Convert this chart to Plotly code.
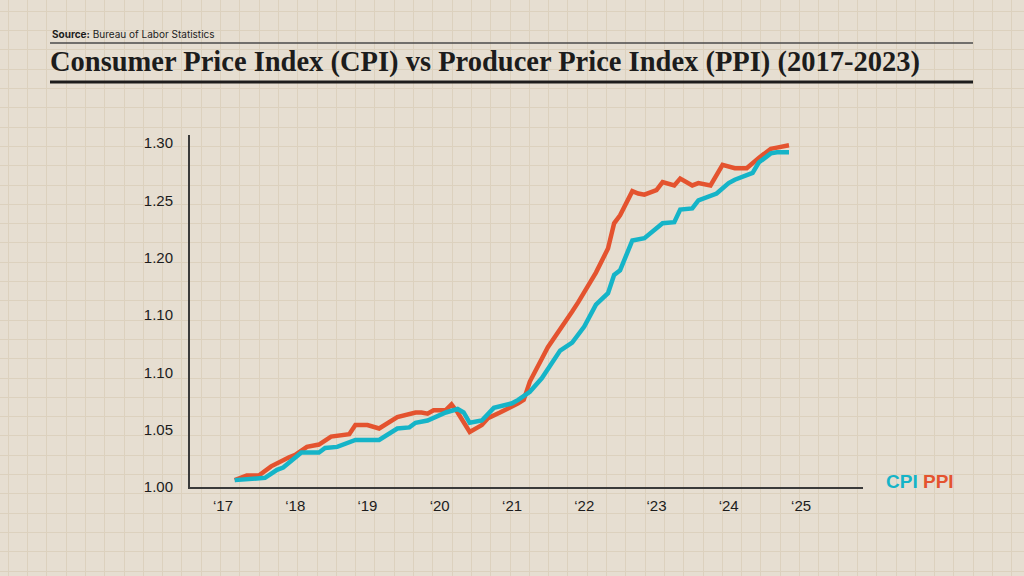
import plotly.graph_objects as go

# ---------------- data ----------------
cpi_dates = ["2017-03", "2017-08", "2017-10", "2017-11", "2018-02", "2018-05", "2018-06",
             "2018-08", "2018-11", "2019-03", "2019-06", "2019-08", "2019-09", "2019-11",
             "2020-02", "2020-04", "2020-05", "2020-06", "2020-08", "2020-10", "2021-01",
             "2021-02", "2021-04", "2021-06", "2021-09", "2021-11", "2022-01", "2022-03",
             "2022-05", "2022-06", "2022-07", "2022-09", "2022-11", "2023-02", "2023-04",
             "2023-05", "2023-07", "2023-08", "2023-11", "2024-01", "2024-02", "2024-05",
             "2024-06", "2024-08", "2024-09", "2024-11"]
cpi_values = [1.006, 1.008, 1.015, 1.017, 1.030, 1.030, 1.034,
              1.035, 1.041, 1.041, 1.051, 1.052, 1.056, 1.058,
              1.065, 1.068, 1.065, 1.056, 1.058, 1.069, 1.073,
              1.076, 1.083, 1.095, 1.119, 1.126, 1.140, 1.159,
              1.169, 1.185, 1.189, 1.215, 1.217, 1.230, 1.231,
              1.242, 1.243, 1.250, 1.256, 1.265, 1.268, 1.274,
              1.283, 1.291, 1.292, 1.292]

ppi_dates = ["2017-03", "2017-05", "2017-07", "2017-09", "2017-12", "2018-01", "2018-03",
             "2018-05", "2018-07", "2018-10", "2018-11", "2019-01", "2019-03", "2019-04",
             "2019-06", "2019-09", "2019-10", "2019-11", "2019-12", "2020-02", "2020-03",
             "2020-04", "2020-06", "2020-08", "2020-09", "2020-11", "2021-01", "2021-02",
             "2021-03", "2021-04", "2021-07", "2021-09", "2021-11", "2021-12", "2022-02",
             "2022-03", "2022-05", "2022-06", "2022-07", "2022-09", "2022-10", "2022-11",
             "2023-01", "2023-02", "2023-04", "2023-05", "2023-07", "2023-08", "2023-10",
             "2023-12", "2024-02", "2024-04", "2024-06", "2024-08", "2024-09", "2024-11"]
ppi_values = [1.006, 1.010, 1.010, 1.018, 1.026, 1.028, 1.035,
              1.037, 1.044, 1.046, 1.054, 1.054, 1.051, 1.054,
              1.061, 1.065, 1.065, 1.064, 1.067, 1.067, 1.072,
              1.065, 1.048, 1.054, 1.060, 1.065, 1.070, 1.073,
              1.076, 1.092, 1.122, 1.137, 1.153, 1.161, 1.178,
              1.187, 1.208, 1.230, 1.237, 1.258, 1.256, 1.255,
              1.259, 1.266, 1.263, 1.269, 1.263, 1.265, 1.263,
              1.281, 1.278, 1.278, 1.287, 1.295, 1.296, 1.298]

x_tick_vals = ["2017-01-01", "2018-01-01", "2019-01-01", "2020-01-01", "2021-01-01",
               "2022-01-01", "2023-01-01", "2024-01-01", "2025-01-01"]
x_tick_text = ["\u201817", "\u201818", "\u201819", "\u201820", "\u201821",
               "\u201822", "\u201823", "\u201824", "\u201825"]
y_tick_vals = [1.00, 1.05, 1.10, 1.15, 1.20, 1.25, 1.30]
y_tick_text = ["1.00", "1.05", "1.10", "1.10", "1.20", "1.25", "1.30"]

title_text = "Consumer Price Index (CPI) vs Producer Price Index (PPI) (2017-2023)"
source_text = "<b>Source:</b> Bureau of Labor Statistics"

# ---------------- style ----------------
W, H = 1024, 576
PAPER = "#e6ded1"
GRID = "#dcd1be"
INK = "#1c1c1c"
AXIS = "#3a3a3a"
CPI_C = "#15b4c8"
PPI_C = "#e4532f"

fig = go.Figure()

# empty trace to hold the full-page "graph paper" subplot
fig.add_trace(go.Scatter(x=[], y=[], xaxis="x", yaxis="y", showlegend=False,
                         hoverinfo="skip"))

fig.add_trace(go.Scatter(x=ppi_dates, y=ppi_values, name="PPI", mode="lines",
                         line=dict(color=PPI_C, width=4.5), xaxis="x2", yaxis="y2",
                         showlegend=False))
fig.add_trace(go.Scatter(x=cpi_dates, y=cpi_values, name="CPI", mode="lines",
                         line=dict(color=CPI_C, width=4.5), xaxis="x2", yaxis="y2",
                         showlegend=False))

x0, x1 = 190 / W, 863 / W
y0, y1 = 1 - 487 / H, 1 - 135 / H

fig.update_layout(
    width=W, height=H,
    margin=dict(l=0, r=0, t=0, b=0, pad=0),
    paper_bgcolor=PAPER, plot_bgcolor="rgba(0,0,0,0)",
    showlegend=False,
    xaxis=dict(domain=[0, 1], range=[0, W], showgrid=True, gridcolor=GRID, gridwidth=1,
               dtick=19.3, tick0=8.2, showticklabels=False, zeroline=False,
               showline=False, ticks="", fixedrange=True, automargin=False),
    yaxis=dict(domain=[0, 1], range=[0, H], showgrid=True, gridcolor=GRID, gridwidth=1,
               dtick=19.3, tick0=5, showticklabels=False, zeroline=False,
               showline=False, ticks="", fixedrange=True, automargin=False),
    xaxis2=dict(domain=[x0, x1], anchor="y2", type="date",
                range=["2016-07-18", "2025-11-10"],
                tickvals=x_tick_vals, ticktext=x_tick_text,
                showgrid=False, zeroline=False, showline=True, linecolor=AXIS, linewidth=2,
                ticks="", ticklabelstandoff=4, automargin=False,
                tickfont=dict(family="Liberation Sans", size=15, color=INK)),
    yaxis2=dict(domain=[y0, y1], anchor="x2", range=[1.0, 1.307],
                tickvals=y_tick_vals, ticktext=y_tick_text,
                showgrid=False, zeroline=False, showline=True, linecolor=AXIS, linewidth=2,
                ticks="", ticklabelstandoff=12, automargin=False,
                tickfont=dict(family="Liberation Sans", size=15, color=INK)),
)

# header rules
fig.add_shape(type="line", xref="paper", yref="paper", x0=50 / W, x1=973 / W,
              y0=1 - 43 / H, y1=1 - 43 / H, line=dict(color="#4a4a4a", width=1.5))
fig.add_shape(type="line", xref="paper", yref="paper", x0=50 / W, x1=973 / W,
              y0=1 - 82 / H, y1=1 - 82 / H, line=dict(color="#1c1c1c", width=3))

fig.add_annotation(text=source_text, xref="paper", yref="paper", x=50 / W, y=1 - 34 / H,
                   xanchor="left", yanchor="middle", showarrow=False,
                   font=dict(family="Inter", size=10, color=INK))
fig.add_annotation(text="<b>" + title_text + "</b>", xref="paper", yref="paper",
                   x=48 / W, y=1 - 62 / H, xanchor="left", yanchor="middle",
                   showarrow=False,
                   font=dict(family="Liberation Serif", size=28.5, color=INK))

# legend labels
fig.add_annotation(text=f"<b><span style='color:{CPI_C}'>CPI</span> "
                        f"<span style='color:{PPI_C}'>PPI</span></b>",
                   xref="paper", yref="paper", x=884 / W, y=1 - 481 / H,
                   xanchor="left", yanchor="middle", showarrow=False,
                   font=dict(family="Liberation Sans", size=19, color=INK))

fig.write_html(
    "out.html",
    config={"displayModeBar": False, "staticPlot": True},
    post_script=(
        "var gd=document.getElementById('{plot_id}');"
        "gd.style.position='fixed';gd.style.left='0px';gd.style.top='0px';"
        "document.documentElement.style.margin='0';"
        "document.body.style.margin='0';"
        "document.documentElement.style.overflow='hidden';"
        "document.body.style.overflow='hidden';"
    ),
)
